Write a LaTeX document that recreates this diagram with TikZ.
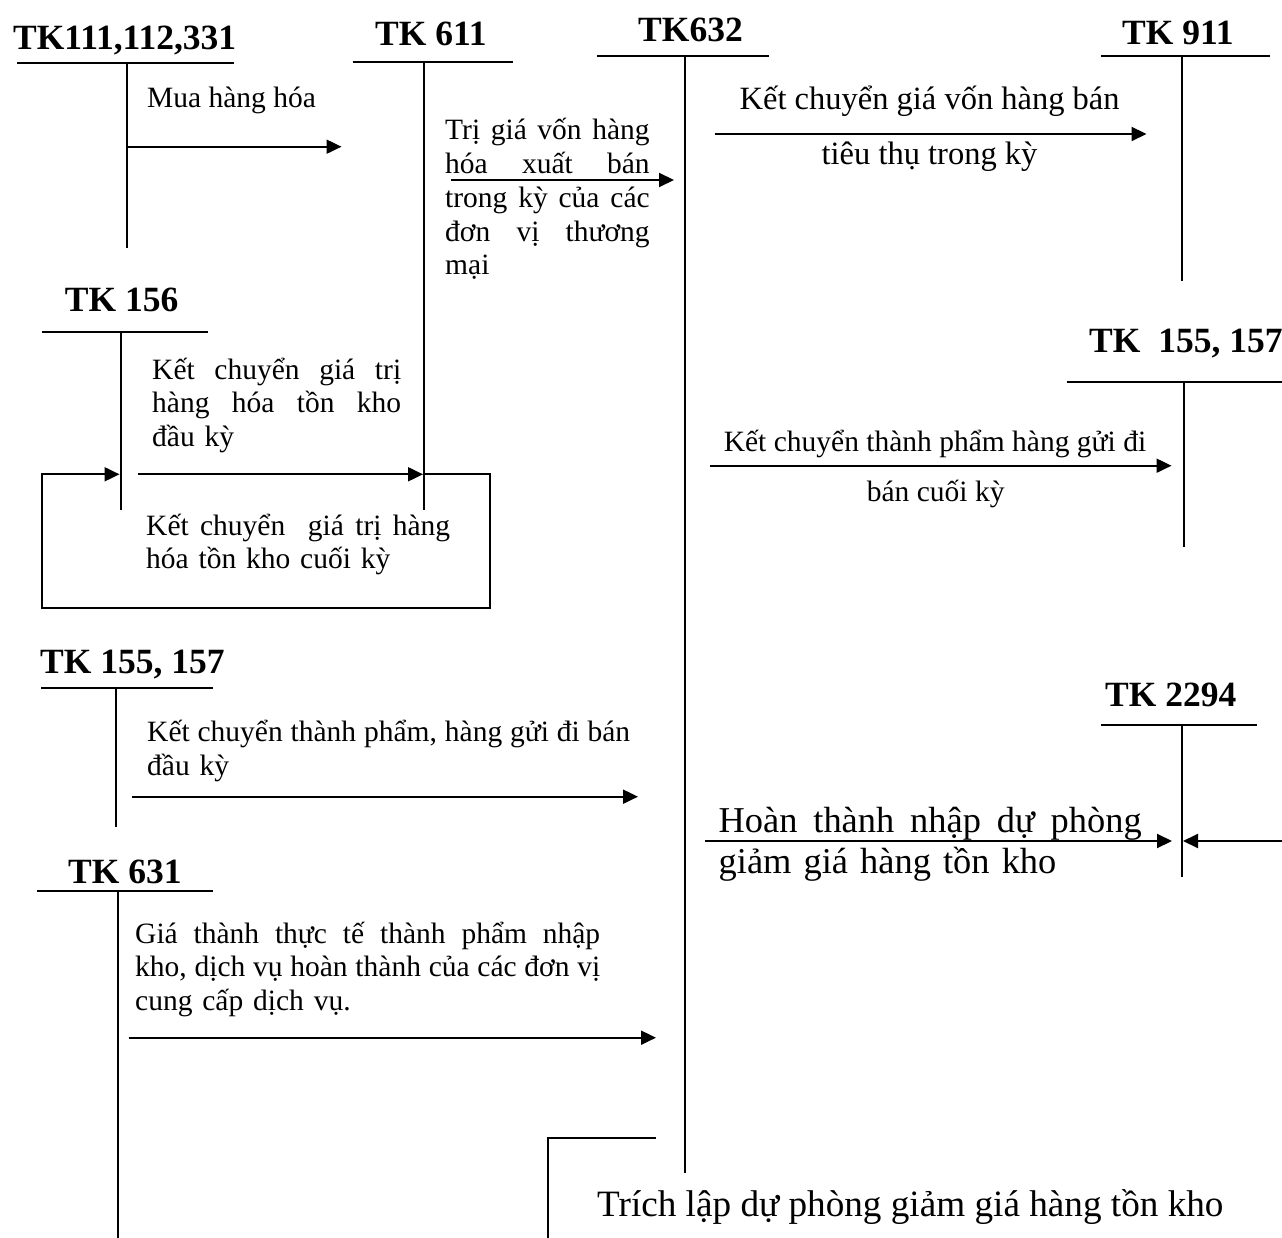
\documentclass[tikz,border=0pt]{standalone}
\usepackage{fontspec}
\setmainfont{Liberation Serif}
\usetikzlibrary{arrows.meta}
\newcommand{\myjust}[2]{\makebox[#1][s]{\spaceskip=0pt\xspaceskip=0pt\relax #2}}
\begin{document}
\begin{tikzpicture}[x=1pt,y=-1pt,
  ln/.style={line width=2pt},
  arr/.style={line width=2pt,-{Triangle[length=15pt,width=14pt]}},
  ttl/.style={font=\fontsize{35.5}{40}\selectfont\bfseries, inner sep=0pt, anchor=base west},
  txt/.style={font=\fontsize{29.5}{33.7}\selectfont, inner sep=0pt, anchor=base west},
  ctxt/.style={font=\fontsize{29.5}{33.7}\selectfont, inner sep=0pt, anchor=base},
  btxt/.style={font=\fontsize{32.5}{36}\selectfont, inner sep=0pt, anchor=base},
  ltxt/.style={font=\fontsize{36.4}{40.3}\selectfont, inner sep=0pt, anchor=base west}]
\useasboundingbox (0,0) rectangle (1282,1238);

% ---------- TK111,112,331
\node[ttl] (n111) at (13,50) {TK111,112,331};
\coordinate (h111a) at (17,62.7); \coordinate (h111b) at (234,62.7);
\coordinate (v111t) at (127,62.7); \coordinate (v111b) at (127,248);
\draw[ln] (h111a) -- (h111b);
\draw[ln] (v111t) -- (v111b);
\node[txt] (mua) at (147,108) {Mua hàng hóa};
\coordinate (a1s) at (127,146.7); \coordinate (a1e) at (341.5,146.7);
\draw[arr] (a1s) -- (a1e);

% ---------- TK 611
\node[ttl] (n611) at (375,45.7) {TK 611};
\coordinate (h611a) at (352.7,62.3); \coordinate (h611b) at (513,62.3);
\coordinate (v611t) at (424,62.3); \coordinate (v611b) at (424,510);
\draw[ln] (h611a) -- (h611b);
\draw[ln] (v611t) -- (v611b);
\node[txt, text width=204.5pt] (trigia) at (445,140)
  {\myjust{204.5pt}{Trị giá vốn hàng}\\
   \myjust{204.5pt}{hóa xuất bán}\\
   \myjust{204.5pt}{trong kỳ của các}\\
   \myjust{204.5pt}{đơn vị thương}\\
   mại};
\coordinate (a2s) at (451,180); \coordinate (a2e) at (674,180);
\draw[arr] (a2s) -- (a2e);

% ---------- TK632
\node[ttl] (n632) at (638,41.7) {TK632};
\coordinate (h632a) at (597,55.7); \coordinate (h632b) at (769,55.7);
\coordinate (v632t) at (685,55.7); \coordinate (v632b) at (685,1172.7);
\draw[ln] (h632a) -- (h632b);
\draw[ln] (v632t) -- (v632b);
\coordinate (a3s) at (714.6,134); \coordinate (a3e) at (1146.5,134);
\draw[arr] (a3s) -- (a3e);
\node[btxt] (kcgv1) at (929.6,110) {Kết chuyển giá vốn hàng bán};
\node[btxt] (kcgv2) at (929.5,165) {tiêu thụ trong kỳ};

% ---------- TK 911
\node[ttl] (n911) at (1122,45) {TK 911};
\coordinate (h911a) at (1101,55.7); \coordinate (h911b) at (1270,55.7);
\coordinate (v911t) at (1182,55.7); \coordinate (v911b) at (1182,281);
\draw[ln] (h911a) -- (h911b);
\draw[ln] (v911t) -- (v911b);

% ---------- TK 156
\node[ttl] (n156) at (64.7,311.7) {TK 156};
\coordinate (h156a) at (42.4,332.3); \coordinate (h156b) at (207.6,332.3);
\coordinate (v156t) at (120.5,332.3); \coordinate (v156b) at (120.5,510);
\draw[ln] (h156a) -- (h156b);
\draw[ln] (v156t) -- (v156b);
\node[txt, text width=249pt] (kcdk) at (152,379)
  {\myjust{249pt}{Kết chuyển giá trị}\\
   \myjust{249pt}{hàng hóa tồn kho}\\
   đầu kỳ};
\coordinate (a4s) at (138,474.3); \coordinate (a4e) at (423,474.3);
\draw[arr] (a4s) -- (a4e);
\coordinate (lp1) at (424,474.3); \coordinate (lp2) at (490,474.3);
\coordinate (lp3) at (490,608); \coordinate (lp4) at (42.4,608);
\coordinate (lp5) at (42.4,474.3); \coordinate (lp6) at (119.5,474.3);
\draw[arr] (lp1) -- (lp2) -- (lp3) -- (lp4) -- (lp5) -- (lp6);
\node[txt, text width=304pt] (kcck) at (146,535)
  {\myjust{304pt}{Kết chuyển\ \ giá trị hàng}\\
   hóa tồn kho cuối kỳ};

% ---------- TK 155, 157 (right)
\node[ttl] (n155r) at (1089,353) {TK\ \ 155, 157};
\coordinate (h155ra) at (1067,382); \coordinate (h155rb) at (1282,382);
\coordinate (v155rt) at (1184,382); \coordinate (v155rb) at (1184,547);
\draw[ln] (h155ra) -- (h155rb);
\draw[ln] (v155rt) -- (v155rb);
\coordinate (a5s) at (710,465.7); \coordinate (a5e) at (1171.5,465.7);
\draw[arr] (a5s) -- (a5e);
\node[ctxt] (kctp1) at (935,451.7) {Kết chuyển thành phẩm hàng gửi đi};
\node[ctxt] (kctp2) at (935.7,501.7) {bán cuối kỳ};

% ---------- TK 155, 157 (left)
\node[ttl] (n155l) at (40,673) {TK 155, 157};
\coordinate (h155la) at (41,688); \coordinate (h155lb) at (213,688);
\coordinate (v155lt) at (116,688); \coordinate (v155lb) at (116,827);
\draw[ln] (h155la) -- (h155lb);
\draw[ln] (v155lt) -- (v155lb);
\node[txt, text width=483pt] (kctpdk) at (147,741.7)
  {\myjust{483pt}{Kết chuyển thành phẩm, hàng gửi đi bán}\\
   đầu kỳ};
\coordinate (a6s) at (132,796.7); \coordinate (a6e) at (638,796.7);
\draw[arr] (a6s) -- (a6e);

% ---------- TK 631
\node[ttl] (n631) at (68,883) {TK 631};
\coordinate (h631a) at (37,891); \coordinate (h631b) at (213,891);
\coordinate (v631t) at (118,891); \coordinate (v631b) at (118,1238);
\draw[ln] (h631a) -- (h631b);
\draw[ln] (v631t) -- (v631b);
\node[txt, text width=465pt] (gtt) at (135,943)
  {\myjust{465pt}{Giá thành thực tế thành phẩm nhập}\\
   \myjust{465pt}{kho, dịch vụ hoàn thành của các đơn vị}\\
   cung cấp dịch vụ.};
\coordinate (a7s) at (128.5,1037.7); \coordinate (a7e) at (656,1037.7);
\draw[arr] (a7s) -- (a7e);

% ---------- TK 2294
\node[ttl] (n2294) at (1105,706) {TK 2294};
\coordinate (h2294a) at (1101,725); \coordinate (h2294b) at (1257,725);
\coordinate (v2294t) at (1181.5,725); \coordinate (v2294b) at (1181.5,876.7);
\draw[ln] (h2294a) -- (h2294b);
\draw[ln] (v2294t) -- (v2294b);
\coordinate (a8s) at (705,841); \coordinate (a8e) at (1172,841);
\draw[arr] (a8s) -- (a8e);
\coordinate (a9s) at (1282,841); \coordinate (a9e) at (1183,841);
\draw[arr] (a9s) -- (a9e);
\node[ltxt, text width=423pt] (htnd) at (718.5,832.7)
  {\myjust{423pt}{Hoàn thành nhập dự phòng}\\
   giảm giá hàng tồn kho};

% ---------- bottom
\coordinate (b1) at (656,1137.7); \coordinate (b2) at (548,1137.7); \coordinate (b3) at (548,1238);
\draw[ln] (b1) -- (b2) -- (b3);
\node[ltxt, font=\fontsize{37.2}{41}\selectfont] (tldp) at (597,1216.7) {Trích lập dự phòng giảm giá hàng tồn kho};
\end{tikzpicture}
\end{document}
